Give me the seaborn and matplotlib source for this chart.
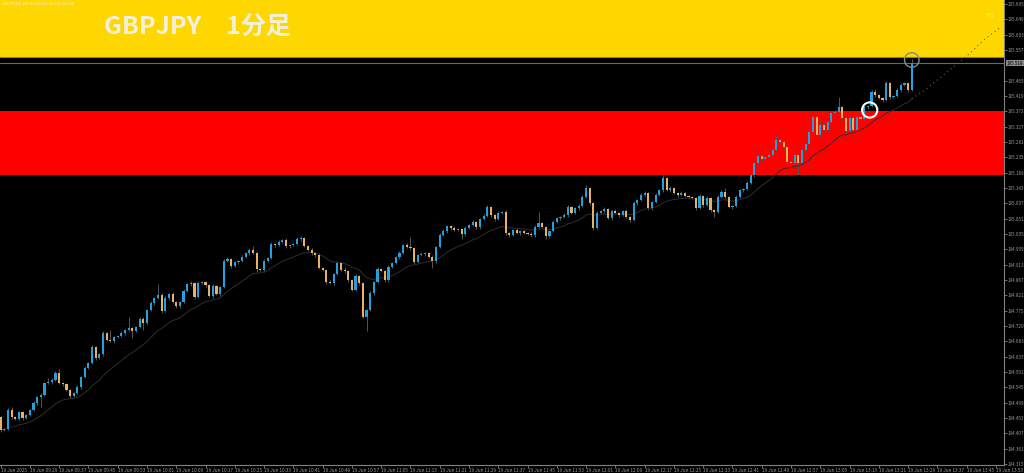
import numpy as np
import pandas as pd
import seaborn as sns
import matplotlib.pyplot as plt
from matplotlib.transforms import blended_transform_factory

# GBPJPY M1 closes, 19 Jun 2025 from 09:21 (one per minute)
closes = [
    194.417, 194.420, 194.477, 194.456, 194.450, 194.471, 194.453, 194.462, 194.477, 194.498,
    194.516, 194.522, 194.558, 194.561, 194.567, 194.588, 194.558, 194.555, 194.537, 194.519,
    194.528, 194.546, 194.576, 194.603, 194.618, 194.666, 194.633, 194.645, 194.708, 194.687,
    194.684, 194.696, 194.699, 194.708, 194.717, 194.723, 194.714, 194.726, 194.750, 194.738,
    194.777, 194.798, 194.813, 194.822, 194.774, 194.813, 194.825, 194.801, 194.789, 194.801,
    194.834, 194.855, 194.858, 194.816, 194.858, 194.861, 194.852, 194.819, 194.849, 194.825,
    194.846, 194.924, 194.930, 194.909, 194.921, 194.924, 194.936, 194.948, 194.957, 194.948,
    194.900, 194.897, 194.924, 194.933, 194.975, 194.972, 194.981, 194.987, 194.969, 194.972,
    194.975, 194.990, 194.993, 194.969, 194.957, 194.948, 194.942, 194.903, 194.897, 194.861,
    194.858, 194.885, 194.918, 194.897, 194.894, 194.867, 194.837, 194.879, 194.858, 194.756,
    194.777, 194.828, 194.861, 194.900, 194.894, 194.867, 194.906, 194.918, 194.936, 194.948,
    194.972, 194.966, 194.963, 194.921, 194.942, 194.945, 194.948, 194.936, 194.924, 194.966,
    195.002, 195.014, 195.029, 195.023, 195.017, 195.020, 195.005, 195.023, 195.032, 195.041,
    195.026, 195.050, 195.059, 195.086, 195.062, 195.050, 195.068, 195.071, 195.008, 195.002,
    195.017, 195.008, 195.014, 195.008, 195.005, 195.002, 195.026, 195.038, 195.026, 194.999,
    195.014, 195.041, 195.053, 195.056, 195.062, 195.086, 195.068, 195.083, 195.089, 195.116,
    195.143, 195.098, 195.023, 195.068, 195.074, 195.080, 195.053, 195.074, 195.068, 195.062,
    195.074, 195.056, 195.047, 195.098, 195.107, 195.122, 195.128, 195.083, 195.101, 195.122,
    195.137, 195.173, 195.137, 195.143, 195.128, 195.122, 195.128, 195.119, 195.116, 195.113,
    195.083, 195.119, 195.092, 195.113, 195.077, 195.071, 195.116, 195.131, 195.116, 195.086,
    195.089, 195.116, 195.137, 195.140, 195.158, 195.182, 195.218, 195.239, 195.230, 195.236,
    195.242, 195.257, 195.287, 195.281, 195.266, 195.221, 195.218, 195.242, 195.218, 195.257,
    195.275, 195.311, 195.356, 195.302, 195.332, 195.317, 195.341, 195.368, 195.371, 195.386,
    195.353, 195.314, 195.353, 195.317, 195.356, 195.350, 195.386, 195.389, 195.431, 195.422,
    195.413, 195.407, 195.458, 195.416, 195.419, 195.437, 195.452, 195.458, 195.437, 195.518,
]
first_open = 194.456

# wick lengths in points (0.001)
wick_up = [
    3, 2, 6, 9, 3, 4, 3, 3, 4, 5, 3, 6, 4, 12, 5, 6, 12, 3, 3, 4, 3, 5, 4, 6, 4,
    5, 4, 3, 6, 3, 30, 4, 3, 5, 4, 33, 4, 3, 6, 5, 4, 5, 4, 33, 6, 5, 4, 6, 3, 4,
    5, 4, 6, 3, 5, 4, 3, 4, 5, 3, 4, 6, 5, 4, 3, 4, 5, 4, 6, 12, 3, 4, 5, 4, 6,
    3, 5, 4, 6, 3, 4, 5, 6, 4, 3, 5, 4, 6, 3, 4, 5, 4, 6, 3, 9, 4, 3, 5, 4, 3,
    4, 5, 3, 6, 4, 3, 5, 4, 3, 6, 4, 5, 30, 4, 3, 6, 4, 3, 5, 4, 6, 5, 4, 3, 6,
    4, 3, 5, 4, 6, 3, 4, 5, 6, 4, 3, 5, 4, 6, 3, 4, 5, 4, 3, 4, 5, 6, 33, 4, 3,
    4, 5, 4, 3, 5, 6, 4, 3, 5, 6, 9, 4, 3, 5, 4, 6, 3, 4, 5, 4, 3, 6, 4, 5, 4,
    6, 5, 4, 3, 5, 4, 9, 4, 5, 3, 4, 5, 3, 4, 4, 3, 6, 4, 5, 3, 4, 6, 5, 12, 4,
    3, 5, 4, 3, 6, 4, 5, 6, 4, 3, 5, 6, 15, 4, 3, 5, 4, 6, 3, 5, 4, 6, 6, 4, 12,
    9, 4, 6, 5, 30, 4, 3, 6, 4, 5, 3, 6, 4, 5, 9, 4, 3, 6, 4, 3, 5, 6, 4, 3, 12,
]
wick_dn = [
    5, 4, 3, 6, 3, 4, 5, 3, 4, 3, 5, 30, 4, 3, 5, 4, 3, 5, 4, 6, 3, 4, 5, 3, 4,
    3, 5, 4, 6, 3, 4, 5, 3, 4, 5, 3, 21, 4, 3, 21, 4, 3, 5, 4, 6, 3, 5, 4, 6, 5,
    4, 3, 5, 6, 4, 3, 5, 4, 6, 3, 5, 4, 3, 5, 4, 6, 3, 4, 5, 3, 9, 4, 6, 3, 4,
    5, 3, 4, 5, 6, 3, 4, 5, 3, 4, 6, 5, 4, 3, 6, 4, 5, 3, 4, 5, 6, 4, 3, 5, 3,
    42, 4, 5, 3, 4, 6, 5, 3, 4, 5, 3, 4, 5, 6, 4, 3, 5, 4, 21, 5, 3, 4, 5, 6, 3,
    4, 15, 5, 3, 4, 5, 6, 3, 4, 5, 6, 4, 3, 5, 6, 4, 3, 5, 4, 3, 6, 5, 4, 3, 9,
    5, 4, 3, 5, 4, 6, 3, 4, 5, 3, 4, 5, 6, 4, 3, 5, 4, 6, 3, 5, 4, 3, 6, 4, 5,
    3, 4, 6, 5, 4, 3, 5, 4, 6, 3, 5, 4, 3, 5, 4, 6, 3, 5, 4, 6, 15, 4, 3, 5, 4,
    6, 4, 3, 5, 4, 3, 5, 4, 6, 3, 4, 5, 3, 4, 5, 6, 4, 5, 36, 4, 3, 5, 4, 6, 5,
    4, 6, 3, 5, 4, 6, 5, 4, 6, 3, 5, 4, 6, 3, 5, 4, 6, 3, 5, 4, 3, 5, 4, 6, 3,
]

# projected MA beyond the last bar
ma_future_bar = [253, 257, 261, 265, 269, 273]
ma_future = [195.440, 195.476, 195.512, 195.548, 195.590, 195.623]

# zones
yellow_zone = (195.536, 195.720)
red_zone = (195.182, 195.374)

# marked points (bar, price)
gray_circle = (249, 195.527)
white_circle = (237.5, 195.377)

time_ticks = list(range(0, 273, 8))
time_labels = [
    '19 Jun 2025', '19 Jun 09:29', '19 Jun 09:37', '19 Jun 09:45', '19 Jun 09:53',
    '19 Jun 10:01', '19 Jun 10:09', '19 Jun 10:17', '19 Jun 10:25', '19 Jun 10:33',
    '19 Jun 10:41', '19 Jun 10:49', '19 Jun 10:57', '19 Jun 11:05', '19 Jun 11:13',
    '19 Jun 11:21', '19 Jun 11:29', '19 Jun 11:37', '19 Jun 11:45', '19 Jun 11:53',
    '19 Jun 12:01', '19 Jun 12:09', '19 Jun 12:17', '19 Jun 12:25', '19 Jun 12:33',
    '19 Jun 12:41', '19 Jun 12:49', '19 Jun 12:57', '19 Jun 13:05', '19 Jun 13:13',
    '19 Jun 13:21', '19 Jun 13:29', '19 Jun 13:37', '19 Jun 13:45', '19 Jun 13:53',
]
price_ticks = [
    194.315, 194.361, 194.407, 194.453, 194.499, 194.545, 194.591, 194.637, 194.683, 194.729,
    194.775, 194.821, 194.867, 194.913, 194.959, 195.005, 195.051, 195.097, 195.143, 195.189,
    195.235, 195.281, 195.327, 195.373, 195.419, 195.465, 195.511, 195.557, 195.603, 195.649,
    195.695,
]

BLUE = '#1fa3e0'
ORANGE = '#e8b262'

sns.set_theme(style='dark', rc={'axes.facecolor': 'black', 'figure.facecolor': 'black'})
plt.rcParams['font.family'] = ['Noto Sans CJK JP', 'DejaVu Sans']

n = min(len(closes), len(wick_up), len(wick_dn))
bars = pd.DataFrame({'close': closes[:n]})
bars['bar'] = np.arange(n)
bars['open'] = bars['close'].shift(1).fillna(first_open)
bars['top'] = bars[['open', 'close']].max(axis=1)
bars['bottom'] = bars[['open', 'close']].min(axis=1)
bars['high'] = bars['top'] + np.array(wick_up[:n]) / 1000
bars['low'] = bars['bottom'] - np.array(wick_dn[:n]) / 1000
bars['ma'] = bars['close'].ewm(span=20, adjust=False).mean()
colors = np.where(bars['close'] >= bars['open'], BLUE, ORANGE)
last = closes[n - 1]

fig = plt.figure(figsize=(10.24, 4.73), dpi=100)
ax = fig.add_axes([0, 8 / 473, 1004 / 1024, 465 / 473])

ax.axhspan(*yellow_zone, facecolor='#ffd700', edgecolor='none', zorder=0.5)
ax.axhline(yellow_zone[0], color='#b86e00', lw=0.8, zorder=0.6)
ax.axhspan(*red_zone, facecolor='#ff0000', edgecolor='none', zorder=0.5)
ax.axhline(last, color='#6a6a6a', lw=0.8, zorder=1)

ax.vlines(bars['bar'], bars['low'], bars['high'], color='#555555', lw=0.7, zorder=2)
body = (bars['top'] - bars['bottom']).clip(lower=0.0025)
ax.bar(bars['bar'], body, bottom=bars['bottom'], width=0.58, color=colors, lw=0, zorder=3)

sns.lineplot(data=bars, x='bar', y='ma', ax=ax, color='#2e2e2e', lw=0.7, zorder=2.5)
future = pd.DataFrame({'bar': [n - 1] + ma_future_bar,
                       'ma': [bars['ma'].iloc[-1]] + ma_future})
sns.lineplot(data=future, x='bar', y='ma', ax=ax, color='#606060', lw=0.8,
             linestyle=(0, (1, 3)), zorder=2.5)

ax.scatter(*gray_circle, s=110, facecolors='none', edgecolors='#7f8b96', lw=1.0, zorder=4)
ax.scatter(*white_circle, s=120, facecolors='none', edgecolors='white', lw=1.5, zorder=4)

ax.set_xlim(-0.16, 274.2)
ax.set_ylim(194.312, 195.707)
ax.set_xlabel('')
ax.set_ylabel('')
ax.grid(False)

# the current-price box covers the nearest tick label, as on the terminal
shown_ticks = [p for p in price_ticks if abs(p - last) > 0.012]
ax.yaxis.tick_right()
ax.set_yticks(shown_ticks)
ax.set_yticklabels([f'{p:.3f}' for p in shown_ticks])
ax.set_xticks(time_ticks)
ax.set_xticklabels(time_labels, ha='left')
ax.tick_params(axis='y', labelsize=3.3, labelcolor='#9a9a9a', color='#808080',
               length=2, width=0.6, pad=0.8, right=True, left=False)
ax.tick_params(axis='x', labelsize=3.4, labelcolor='#9a9a9a', color='#808080',
               length=2, width=0.6, pad=0.5, bottom=True)
for side in ['top', 'left']:
    ax.spines[side].set_visible(False)
for side in ['right', 'bottom']:
    ax.spines[side].set_visible(True)
    ax.spines[side].set_color('#808080')
    ax.spines[side].set_linewidth(0.8)

trans = blended_transform_factory(ax.transAxes, ax.transData)
ax.text(1.003, last, f'{last:.3f}', transform=trans, ha='left', va='center',
        fontsize=3.3, color='black', clip_on=False,
        bbox=dict(facecolor='#8a8a8a', edgecolor='none', pad=0.6))

fig.text(104 / 1024, 1 - 28 / 473, 'GBPJPY\u30001分足', fontsize=18, fontweight='bold',
         color='#f4f0de', ha='left', va='center')
fig.text(0.002, 0.997, 'GBPJPY,M1  195.514 195.521 195.511 195.518', fontsize=2.5,
         color='#fff8dc', ha='left', va='top')
fig.text(985 / 1024, 1 - 16 / 473, 'FD', fontsize=5, color='#ffe98a', ha='left', va='center')

fig.savefig('out.png', dpi=100, facecolor='black')
